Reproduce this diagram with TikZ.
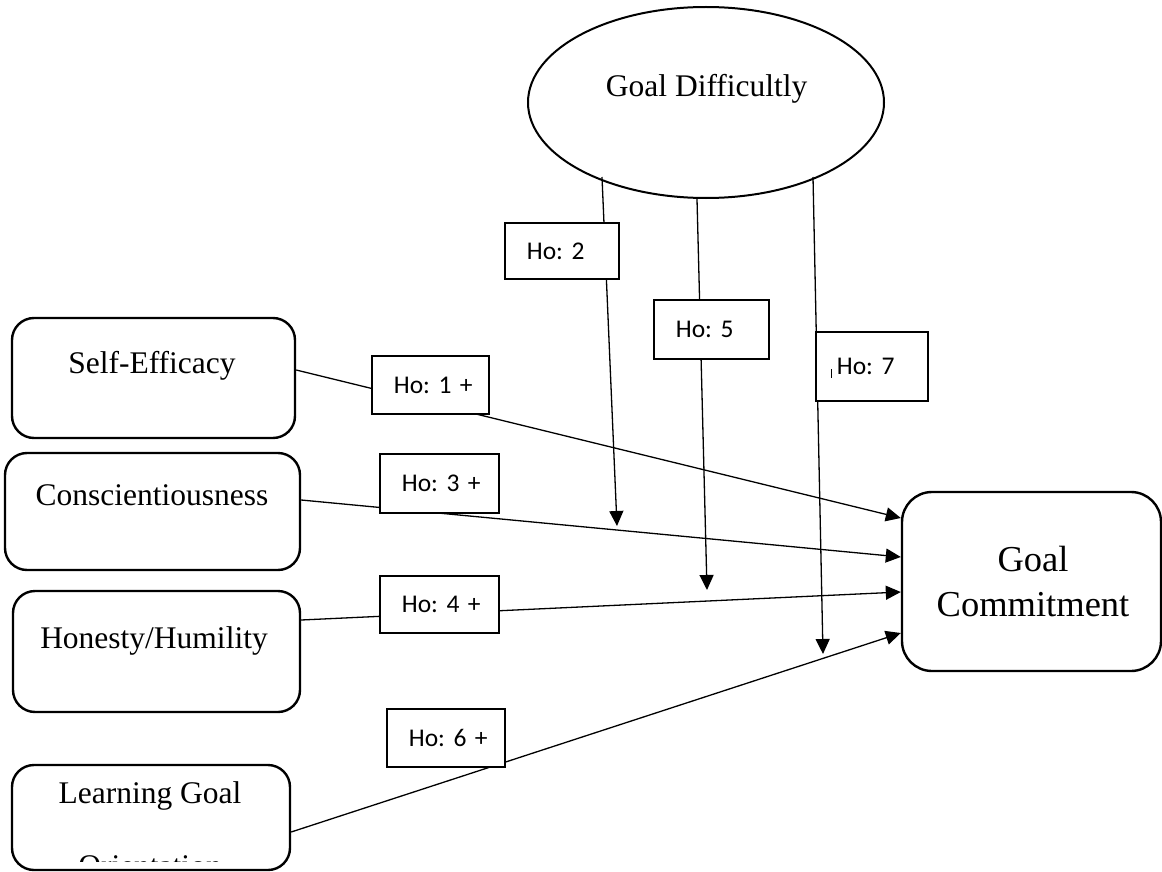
\documentclass[tikz,border=0pt]{standalone}
\usepackage{fontspec}
\setmainfont{Liberation Serif}
\newfontfamily\hofont{Carlito}
\usetikzlibrary{shapes.geometric,arrows.meta,calc}
\begin{document}
\frenchspacing
\begin{tikzpicture}[x=1pt,y=-1pt,
  mainbox/.style={draw=black, line width=2.4pt, rounded corners=22pt, fill=white, inner sep=0pt},
  maintext/.style={font=\fontsize{31.5}{38}\selectfont, inner sep=0pt, anchor=base},
  hobox/.style={draw=black, line width=1.8pt, fill=white, inner xsep=22pt, inner ysep=0pt,
    anchor=north west, align=left, font=\hofont\fontsize{25.5}{30}\selectfont\frenchspacing},
  conn/.style={line width=1.3pt, -{Triangle[length=15pt,width=14pt]}},
]
\useasboundingbox (0,0) rectangle (1162,872);

% ellipse
\node[ellipse, draw=black, line width=2pt, minimum width=356pt, minimum height=191pt, inner sep=0pt] (gd) at (706,102.5) {};
\node[maintext] (gdtxt) at (706.7,97) {Goal Difficultly};

% main boxes
\node[mainbox, minimum width=283pt, minimum height=120pt] (se) at (153.5,378) {};
\node[maintext] (setxt) at (152,373) {Self-Efficacy};
\node[mainbox, minimum width=295pt, minimum height=117pt] (co) at (152.5,511.5) {};
\node[maintext] (cotxt) at (152,505) {Conscientiousness};
\node[mainbox, minimum width=287pt, minimum height=121pt] (hh) at (156.5,651.5) {};
\node[maintext] (hhtxt) at (154,648) {Honesty/Humility};
\node[mainbox, minimum width=278pt, minimum height=105pt] (lg) at (151,817.5) {};
\node[maintext] (lgtxt) at (150,803) {Learning Goal};
\begin{scope}
  \clip (0,700) rectangle (1162,861);
  \node[maintext] (lgtxt2) at (150,876) {Orientation};
\end{scope}
\node[mainbox, rounded corners=30pt, minimum width=259pt, minimum height=179pt] (gc) at (1031.5,581.5) {};
\node[font=\fontsize{36.5}{45}\selectfont, align=center, inner sep=0pt] (gctxt) at (1033,582) {Goal\\Commitment};

% free ends of moderator arrows
\coordinate (m2) at (617,526);
\coordinate (m5) at (707,590);
\coordinate (m7) at (823,654);

% connectors
\draw[conn] ($(se.east)+(0,-8)$) -- ($(gc.west)+(0,-63.5)$);
\draw[conn] ($(co.east)+(0,-11.5)$) -- ($(gc.west)+(0,-24.5)$);
\draw[conn] ($(hh.east)+(0,-31.5)$) -- ($(gc.west)+(0,10.5)$);
\draw[conn] ($(lg.east)+(0,14.5)$) -- ($(gc.west)+(0,51.5)$);
\draw[conn] ($(gd.center)+(-104,74.5)$) -- (m2);
\draw[conn] ($(gd.south)+(-9,0)$) -- (m5);
\draw[conn] ($(gd.center)+(107,74.5)$) -- (m7);

% hypothesis labels
\node[hobox, text width=73pt, minimum height=58pt] (h1) at (371,355) {\mbox{Ho: 1 +}};
\node[hobox, text width=70pt, minimum height=56pt] (h2) at (504,222) {\mbox{Ho: 2}};
\node[hobox, text width=71pt, minimum height=59pt] (h5) at (653,299) {\mbox{Ho: 5}};
\node[hobox, text width=75pt, minimum height=59pt] (h3) at (379,453) {\mbox{Ho: 3 +}};
\node[hobox, text width=75pt, minimum height=57pt] (h4) at (379,575) {\mbox{Ho: 4 +}};
\node[hobox, text width=74pt, minimum height=58pt] (h6) at (386,708) {\mbox{Ho: 6 +}};
\node[hobox, text width=70pt, inner xsep=21pt, minimum height=69pt] (h7) at (815,331) {\mbox{Ho: 7}};
\draw[line width=0.8pt] ($(h7.west)+(16,3)$) -- ($(h7.west)+(16,12)$);
\end{tikzpicture}
\end{document}
